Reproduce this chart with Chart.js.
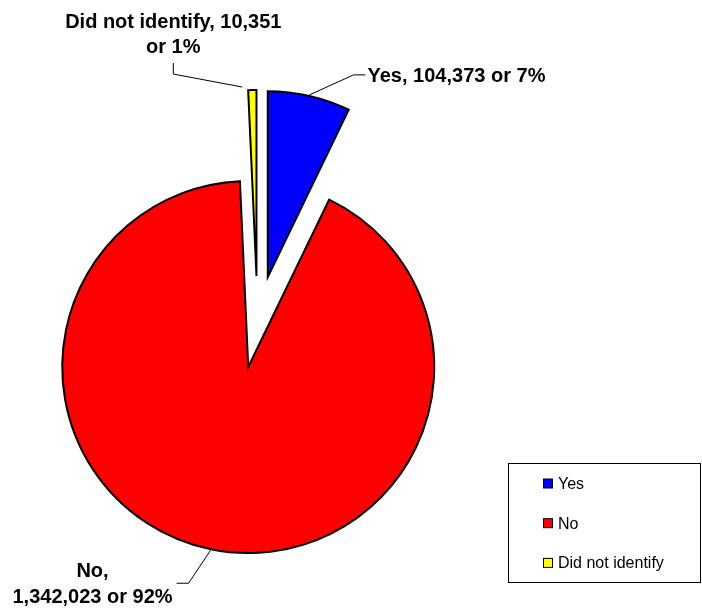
<!DOCTYPE html>
<html>
<head>
<meta charset="utf-8">
<script src="https://cdn.jsdelivr.net/npm/chart.js@4.4.1/dist/chart.umd.min.js"></script>
<style>
  html, body { margin: 0; padding: 0; background: #fff; }
  canvas { display: block; }
</style>
</head>
<body>
<canvas id="identifyPie" width="702" height="614"></canvas>
<script>
const categories = ['Yes', 'No', 'Did not identify'];
const counts = [104373, 1342023, 10351];
const sliceColors = ['#0000FF', '#FF0000', '#FFFF00'];

const total = counts.reduce((a, b) => a + b, 0);

// where each data label goes, relative to the point on the slice edge
const labelLayout = [
  { start: [0, 0], elbow: [44, -20], end: [56, -20], align: 'left', dx: 2, baselines: [7], breakAfter: -1 },
  { start: [0, 0], elbow: [-22, 33], end: [-34, 33], align: 'blockRight', dx: -4, baselines: [-6, 20], breakAfter: 0 },
  { start: [-10, -2], elbow: [-79, -15], end: [-79, -26], align: 'center', dx: 0, baselines: [-35, -10], breakAfter: 1 }
];

const explode = 46;

function labelLines(i, breakAfter) {
  const pct = Math.round(counts[i] / total * 100);
  const parts = [categories[i] + ',', counts[i].toLocaleString('en-US'), 'or ' + pct + '%'];
  if (breakAfter < 0) return [parts.join(' ')];
  return [parts.slice(0, breakAfter + 1).join(' '), parts.slice(breakAfter + 1).join(' ')];
}

const explodePlugin = {
  id: 'explode',
  afterDatasetUpdate(chart, args) {
    args.meta.data.forEach(function (arc) {
      const mid = (arc.startAngle + arc.endAngle) / 2;
      arc.x += Math.cos(mid) * explode;
      arc.y += Math.sin(mid) * explode;
    });
  }
};

const labelPlugin = {
  id: 'sliceLabels',
  afterDatasetsDraw(chart) {
    const ctx = chart.ctx;
    const arcs = chart.getDatasetMeta(0).data;
    ctx.save();
    ctx.font = 'bold 20px "Liberation Sans", Arial, sans-serif';
    ctx.fillStyle = '#000';
    ctx.strokeStyle = '#000';
    ctx.lineWidth = 1;
    arcs.forEach(function (arc, i) {
      const lay = labelLayout[i];
      const mid = (arc.startAngle + arc.endAngle) / 2;
      const r = arc.outerRadius + 1;
      const ax = arc.x + Math.cos(mid) * r;
      const ay = arc.y + Math.sin(mid) * r;
      ctx.beginPath();
      ctx.moveTo(ax + lay.start[0], ay + lay.start[1]);
      ctx.lineTo(ax + lay.elbow[0], ay + lay.elbow[1]);
      ctx.lineTo(ax + lay.end[0], ay + lay.end[1]);
      ctx.stroke();
      const ex = ax + lay.end[0];
      const ey = ay + lay.end[1];
      const lines = labelLines(i, lay.breakAfter);
      const maxW = Math.max.apply(null, lines.map(l => ctx.measureText(l).width));
      ctx.textBaseline = 'alphabetic';
      lines.forEach(function (line, k) {
        let x;
        if (lay.align === 'left') {
          ctx.textAlign = 'left';
          x = ex + lay.dx;
        } else if (lay.align === 'blockRight') {
          ctx.textAlign = 'center';
          x = ex + lay.dx - maxW / 2;
        } else {
          ctx.textAlign = 'center';
          x = ex + lay.dx;
        }
        ctx.fillText(line, x, ey + lay.baselines[k]);
      });
    });
    ctx.restore();
  }
};

const legendBoxPlugin = {
  id: 'legendBox',
  afterDraw(chart) {
    const ctx = chart.ctx;
    const colors = chart.data.datasets[0].backgroundColor;
    ctx.save();
    ctx.strokeStyle = '#000';
    ctx.lineWidth = 1;
    ctx.strokeRect(508.5, 463.5, 192, 119);
    ctx.font = '16px "Liberation Sans", Arial, sans-serif';
    ctx.textBaseline = 'middle';
    ctx.textAlign = 'left';
    chart.data.labels.forEach(function (label, i) {
      const cy = 483.5 + i * 39.7;
      ctx.fillStyle = colors[i];
      ctx.fillRect(543.5, cy - 4.5, 9, 9);
      ctx.strokeStyle = '#000';
      ctx.strokeRect(543.5, cy - 4.5, 9, 9);
      ctx.fillStyle = '#000';
      ctx.fillText(label, 558, cy + 1);
    });
    ctx.restore();
  }
};

new Chart(document.getElementById('identifyPie'), {
  type: 'pie',
  data: {
    labels: categories,
    datasets: [{
      data: counts,
      backgroundColor: sliceColors,
      borderColor: '#000',
      borderWidth: 2,
      borderJoinStyle: 'miter'
    }]
  },
  options: {
    responsive: false,
    animation: false,
    events: [],
    radius: 186,
    layout: { padding: { left: 0, right: 187, top: 30, bottom: 0 } },
    plugins: {
      legend: { display: false },
      tooltip: { enabled: false }
    }
  },
  plugins: [explodePlugin, labelPlugin, legendBoxPlugin]
});
</script>
</body>
</html>
